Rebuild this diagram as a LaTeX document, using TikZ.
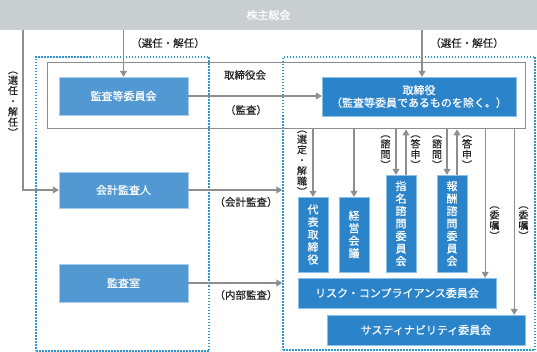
\documentclass[tikz,border=0pt]{standalone}
\usepackage{fontspec}
\setmainfont{Noto Sans CJK JP}[FakeBold=0.5]
\usetikzlibrary{arrows.meta,positioning}
\definecolor{barbg}{HTML}{C9CED0}
\definecolor{leftblue}{HTML}{5298D2}
\definecolor{leftedge}{HTML}{A8CDEC}
\definecolor{rightblue}{HTML}{2B84C9}
\definecolor{rightedge}{HTML}{8CC0E8}
\definecolor{dotblue}{HTML}{2F97CF}
\definecolor{linegray}{HTML}{8E8E8E}
\definecolor{textgray}{HTML}{222222}
\tikzset{
  lbox/.style={fill=leftblue, draw=leftedge, text=white, align=center,
               minimum width=129pt, inner sep=0pt, font=\fontsize{11}{13}\selectfont},
  rbox/.style={fill=rightblue, draw=rightedge, text=white, align=center,
               inner sep=0pt, font=\fontsize{11}{12.5}\selectfont},
  dotbox/.style={draw=dotblue, line width=1.5pt, dash pattern=on 1.5pt off 1.5pt,
                 inner sep=0pt},
  ar/.style={-{Triangle[length=6pt, width=7pt]}, line width=1.1pt, draw=linegray, color=linegray},
  lbl/.style={font=\fontsize{10.5}{12}\selectfont, inner sep=0pt, text=textgray},
  vlbl/.style={lbl, align=center, font=\fontsize{10}{10.5}\selectfont}
}
\begin{document}
\begin{tikzpicture}[x=1pt,y=-1pt]
  \useasboundingbox (0,0) rectangle (537,352);

  % shareholders
  \node[fill=barbg, minimum width=537pt, minimum height=30pt, inner sep=0pt,
        text=white, font=\fontsize{11}{13}\selectfont] (gm) at (268.5,15) {株主総会};

  % the two dotted groups
  \node[dotbox, minimum width=173pt, minimum height=294pt] (lgrp) at (122.5,204) {};
  \node[dotbox, minimum width=252pt, minimum height=293pt] (rgrp) at (409,203.5) {};

  % board of directors
  \node[draw=linegray, line width=1pt, minimum width=478pt, minimum height=66pt,
        inner sep=0pt] (board) at (286,96) {};
  \node[lbl] (boardlbl) at (245,75) {取締役会};

  % left column
  \node[lbox, minimum height=38pt] (acm) at (123.5,96) {監査等委員会};
  \node[lbox, minimum height=36pt] (auditor) at (123.5,190) {会計監査人};
  \node[lbox, minimum height=38pt] (iaudit) at (123.5,283) {監査室};

  % right column
  \node[rbox, minimum width=194pt, minimum height=39pt] (dir) at (419,96.5)
      {取締役\\（監査等委員であるものを除く。）};
  \node[rbox, minimum width=30pt, minimum height=75pt] (rep) at (313,234.5)
      {代\\表\\取\\締\\役};
  \node[rbox, minimum width=30pt, minimum height=75pt] (mgmt) at (354,234.5)
      {経\\営\\会\\議};
  \node[rbox, minimum width=30pt, minimum height=97pt] (nom) at (401,223.5)
      {指\\名\\諮\\問\\委\\員\\会};
  \node[rbox, minimum width=30pt, minimum height=97pt] (rem) at (452,223.5)
      {報\\酬\\諮\\問\\委\\員\\会};
  \node[rbox, minimum width=198pt, minimum height=30pt] (risk) at (397,293)
      {リスク・コンプライアンス委員会};
  \node[rbox, minimum width=198pt, minimum height=30pt] (sus) at (426,330)
      {サスティナビリティ委員会};

  % elections
  \coordinate (lft) at (23,30);
  \draw[ar] (lft) |- (auditor.west);
  \node[vlbl] (lftlbl) at (13,104) {︵\\選\\任\\・\\解\\任\\︶};
  \draw[ar] (acm.north |- gm.south) -- (acm.north);
  \node[lbl] (acmlbl) at (168,43) {（選任・解任）};
  \draw[ar] ([xshift=3pt]dir.north |- gm.south) -- ([xshift=3pt]dir.north);
  \node[lbl] (dirlbl) at (467,43) {（選任・解任）};

  % audits
  \draw[ar] (acm.east) -- (acm.east -| dir.west);
  \node[lbl] (acmaud) at (246,110) {（監査）};
  \draw[ar] (auditor.east) -- (auditor.east -| rgrp.west);
  \node[lbl] (extaud) at (246,202) {（会計監査）};
  \draw[ar] (iaudit.east) -- (iaudit.east -| rgrp.west);
  \node[lbl] (intaud) at (246,295) {（内部監査）};

  % from the board down
  \draw[ar] (rep.north |- board.south) -- (rep.north);
  \node[vlbl] (replbl) at (302,163) {︵\\選\\定\\・\\解\\職\\︶};
  \draw[ar] (mgmt.north |- board.south) -- (mgmt.north);
  \foreach \c in {nom, rem} {
    \draw[ar] ([xshift=-5pt]\c.north |- board.south) -- ([xshift=-5pt]\c.north);
    \draw[ar] ([xshift=5pt]\c.north) -- ([xshift=5pt]\c.north |- board.south);
  }
  \node[vlbl] (nomq) at (385.5,152) {︵\\諮\\問\\︶};
  \node[vlbl] (noma) at (415.5,152) {︵\\答\\申\\︶};
  \node[vlbl] (remq) at (437,152) {︵\\諮\\問\\︶};
  \node[vlbl] (rema) at (467,152) {︵\\答\\申\\︶};
  \draw[ar] ([xshift=-11pt]risk.north east |- board.south) -- ([xshift=-11pt]risk.north east);
  \node[vlbl] (risklbl) at (494.5,223) {︵\\委\\嘱\\︶};
  \draw[ar] ([xshift=-11pt]sus.north east |- board.south) -- ([xshift=-11pt]sus.north east);
  \node[vlbl] (suslbl) at (523.5,223) {︵\\委\\嘱\\︶};
\end{tikzpicture}
\end{document}
